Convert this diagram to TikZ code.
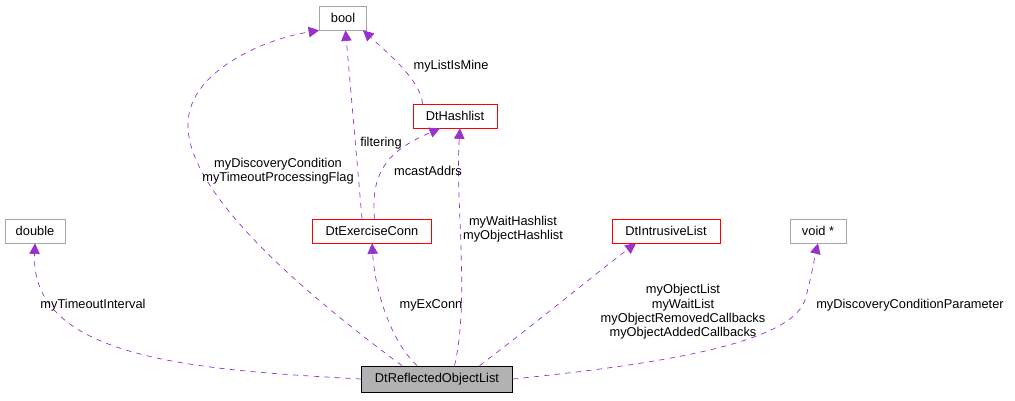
\documentclass[tikz,border=0pt]{standalone}
\usepackage{fontspec}
\setmainfont{Liberation Sans}
\usetikzlibrary{arrows.meta}
\begin{document}
\begin{tikzpicture}[x=0.02cm,y=-0.02cm,font=\fontsize{7.3}{8.2}\selectfont]
	\definecolor{edgepurple}{RGB}{153,50,204}
	\tikzstyle{cls}=[draw=red,rectangle,minimum height=0.48cm,inner sep=2pt,text height=5.5pt]
	\tikzstyle{ext}=[cls,draw=black!35]
	\tikzstyle{main}=[cls,draw=black,fill=black!30,minimum height=0.52cm]
	\tikzstyle{uses}=[draw=edgepurple,dashed,-{Triangle[length=6pt,width=6pt]}]
	\tikzstyle{lbl}=[align=center,inner sep=1pt]
	\useasboundingbox (0,0) rectangle (1015,400);

	% classes
	\node[ext,minimum width=0.94cm] 	(bool)	at (343,18)	{bool};
	\node[cls,minimum width=1.68cm] 	(hash)	at (455,116)	{DtHashlist};
	\node[ext,minimum width=1.2cm] 	(dbl)	at (35,231)	{double};
	\node[cls,minimum width=2.38cm] 	(exconn)	at (372,231)	{DtExerciseConn};
	\node[cls,minimum width=2.16cm] 	(intr)	at (666,231)	{DtIntrusiveList};
	\node[ext,minimum width=1.12cm] 	(void)	at (818,231)	{void *};
	\node[main,minimum width=3.02cm] 	(refl)	at (437,379)	{DtReflectedObjectList};

	% members
	\draw[uses] (refl.west) .. controls (200,370) and (30,360) .. (dbl.south);
	\draw[uses] ([xshift=-0.7cm]refl.north) .. controls (300,290) and (170,180) .. (190,110) .. controls (200,70) and (260,40) .. (bool.south west);
	\draw[uses] ([xshift=-0.4cm]refl.north) .. controls (390,340) and (375,290) .. (exconn.south);
	\draw[uses] ([xshift=0.35cm]refl.north) .. controls (470,300) and (455,200) .. ([xshift=0.1cm]hash.south);
	\draw[uses] ([xshift=0.85cm]refl.north) .. controls (540,320) and (600,270) .. ([xshift=-0.6cm]intr.south);
	\draw[uses] (refl.east) .. controls (650,365) and (790,345) .. (805,300) .. controls (812,275) and (815,255) .. (void.south);
	\draw[uses] ([xshift=-0.2cm]exconn.north) -- ([xshift=0.05cm]bool.south);
	\draw[uses] ([xshift=0.05cm]exconn.north) .. controls (370,170) and (390,150) .. ([xshift=-0.3cm]hash.south);
	\draw[uses] ([xshift=0.2cm]hash.north west) .. controls (420,80) and (390,55) .. ([xshift=0.4cm]bool.south);

	% labels
	\node[lbl] (l1) at (93,305) {myTimeoutInterval};
	\node[lbl] (l2) at (278,171) {myDiscoveryCondition\\myTimeoutProcessingFlag};
	\node[lbl] (l3) at (431,305) {myExConn};
	\node[lbl] (l4) at (513,229) {myWaitHashlist\\myObjectHashlist};
	\node[lbl] (l5) at (683,312) {myObjectList\\myWaitList\\myObjectRemovedCallbacks\\myObjectAddedCallbacks};
	\node[lbl] (l6) at (910,305) {myDiscoveryConditionParameter};
	\node[lbl] (l7) at (381,143) {filtering};
	\node[lbl] (l8) at (428,171) {mcastAddrs};
	\node[lbl] (l9) at (451,66) {myListIsMine};
\end{tikzpicture}
\end{document}
